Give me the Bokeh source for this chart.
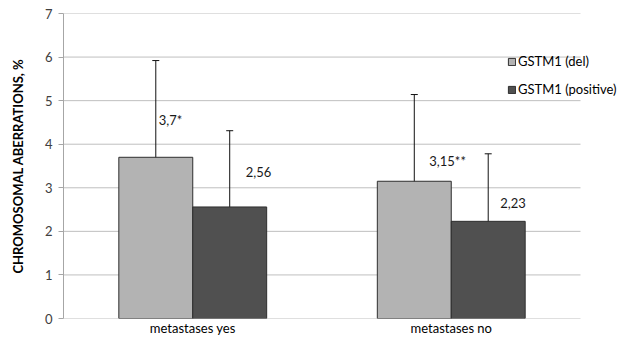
from bokeh.plotting import figure
from bokeh.models import (ColumnDataSource, Range1d, Whisker, TeeHead,
                          Legend, LegendItem, FixedTicker)
from bokeh.transform import dodge
from bokeh.core.properties import value
from bokeh.embed import file_html
from bokeh.resources import INLINE

categories = ["metastases yes", "metastases no"]
series_names = ["GSTM1 (del)", "GSTM1 (positive)"]
del_values = [3.70, 3.15]
pos_values = [2.56, 2.23]
del_err = [2.22, 1.99]
pos_err = [1.75, 1.55]
del_labels = ["3,7*", "3,15**"]
pos_labels = ["2,56", "2,23"]
y_ticks = [0, 1, 2, 3, 4, 5, 6, 7]

FONT = "Lato"
BAR_W = 0.286
OFF = BAR_W / 2
idx = list(range(len(categories)))

# frame geometry (px)
W, H = 618, 338
LEFT, TOP, RIGHT, BOTTOM = 63, 13, 1, 17
CAT_PX = 258.5  # width of one category slot
frame_w = W - LEFT - RIGHT
x_end = -0.5 + frame_w / CAT_PX

src_del = ColumnDataSource(dict(
    x=idx, val=del_values,
    up=[v + e for v, e in zip(del_values, del_err)],
    lo=[v - e for v, e in zip(del_values, del_err)],
    lab=del_labels, xo=[3, 15], yo=[-37, -20]))
src_pos = ColumnDataSource(dict(
    x=idx, val=pos_values,
    up=[v + e for v, e in zip(pos_values, pos_err)],
    lo=[v - e for v, e in zip(pos_values, pos_err)],
    lab=pos_labels, xo=[16, 12], yo=[-35, -18]))

p = figure(width=W, height=H, x_range=Range1d(-0.5, x_end),
           y_range=Range1d(0, 7), output_backend="svg", toolbar_location=None,
           min_border_left=LEFT, min_border_right=RIGHT, min_border_top=TOP,
           min_border_bottom=BOTTOM)
p.outline_line_color = None
p.xgrid.grid_line_color = None
p.ygrid.grid_line_color = None

# horizontal gridlines only across the category area
p.segment(x0=[-0.5] * len(y_ticks), x1=[len(categories) - 0.5] * len(y_ticks),
          y0=y_ticks, y1=y_ticks, line_color="#bfbfbf", line_width=1, level="underlay")

p.yaxis.ticker = FixedTicker(ticks=y_ticks)
p.yaxis.axis_line_color = "#a6a6a6"
p.yaxis.major_tick_line_color = "#a6a6a6"
p.yaxis.major_tick_out = 5
p.yaxis.major_tick_in = 0
p.yaxis.minor_tick_line_color = None
p.yaxis.major_label_standoff = 6
p.yaxis.major_label_text_font = FONT
p.yaxis.major_label_text_font_size = "13px"
p.yaxis.major_label_text_color = "#404040"
p.yaxis.axis_label = "CHROMOSOMAL ABERRATIONS, %"
p.yaxis.axis_label_text_font = FONT
p.yaxis.axis_label_text_font_style = "bold"
p.yaxis.axis_label_text_font_size = "13px"
p.yaxis.axis_label_text_color = "#000000"
p.yaxis.axis_label_standoff = 16

p.xaxis.ticker = FixedTicker(ticks=idx)
p.xaxis.major_label_overrides = {i: c for i, c in zip(idx, categories)}
p.xaxis.axis_line_color = None
p.xaxis.major_tick_line_color = None
p.xaxis.major_tick_out = 0
p.xaxis.minor_tick_line_color = None
p.xaxis.minor_tick_out = 0
p.xaxis.major_label_standoff = 1
p.xaxis.major_label_text_font = FONT
p.xaxis.major_label_text_font_size = "13px"
p.xaxis.major_label_text_color = "#000000"

r1 = p.vbar(x=dodge("x", -OFF), top="val", width=BAR_W, source=src_del,
            fill_color="#b3b3b3", line_color="#2e2e2e", line_width=1)
r2 = p.vbar(x=dodge("x", OFF), top="val", width=BAR_W, source=src_pos,
            fill_color="#505050", line_color="#2e2e2e", line_width=1)

for src, off in ((src_del, -OFF), (src_pos, OFF)):
    w = Whisker(base=dodge("x", off), upper="up", lower="lo", source=src,
                line_color="#111111", line_width=1,
                upper_head=TeeHead(size=7, line_color="#111111", line_width=1),
                lower_head=TeeHead(size=7, line_color="#111111", line_width=1))
    p.add_layout(w)
    p.text(x=dodge("x", off), y="val", text="lab", source=src,
           x_offset="xo", y_offset="yo", text_font=value(FONT), text_font_size="13px",
           text_color="#1a1a1a", text_align="left", text_baseline="middle")

legend = Legend(items=[LegendItem(label=series_names[0], renderers=[r1]),
                       LegendItem(label=series_names[1], renderers=[r2])],
                location=(444, 219), orientation="vertical",
                glyph_width=9, glyph_height=9, label_standoff=2, spacing=8,
                padding=0, margin=0, border_line_color=None, background_fill_alpha=0,
                label_text_font=FONT, label_text_font_size="13px", label_text_color="#000000",
                label_height=20)
p.add_layout(legend, "center")

open("out.html", "w").write(file_html(p, INLINE))
